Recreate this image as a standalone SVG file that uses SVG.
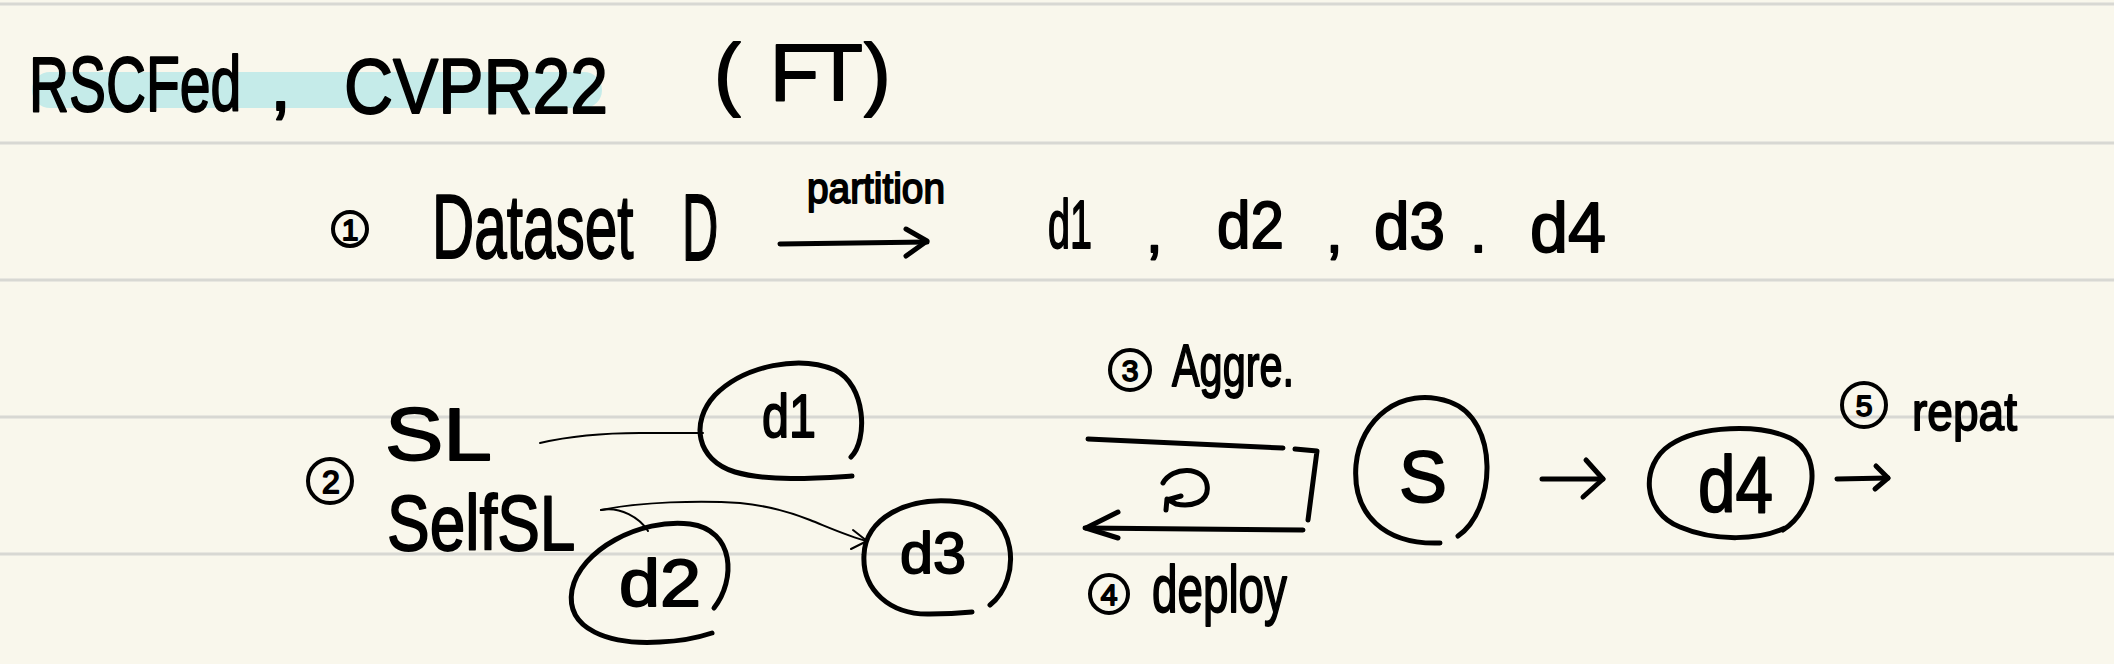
<svg xmlns="http://www.w3.org/2000/svg" width="2114" height="664" viewBox="0 0 2114 664">
  <defs>
    <style>
      .bg { fill: #f9f7ec; }
      .rule { stroke: #d8d8d3; stroke-width: 3; }
      .hw { font-family: "Liberation Sans", "DejaVu Sans", sans-serif; fill: #000; stroke: #000; stroke-width: 1.8; stroke-linejoin: round; }
      .ink { fill: none; stroke: #000; stroke-width: 5; stroke-linecap: round; stroke-linejoin: round; }
      .thin { fill: none; stroke: #000; stroke-width: 2; stroke-linecap: round; stroke-linejoin: round; }
      .circ { fill: none; stroke: #000; stroke-width: 4; stroke-linecap: round; }
    </style>
  </defs>

  <rect class="bg" x="0" y="0" width="2114" height="664"/>
  <g id="rules">
    <line class="rule" x1="0" y1="4" x2="2114" y2="4"/>
    <line class="rule" x1="0" y1="143" x2="2114" y2="143"/>
    <line class="rule" x1="0" y1="280" x2="2114" y2="280"/>
    <line class="rule" x1="0" y1="417" x2="2114" y2="417"/>
    <line class="rule" x1="0" y1="554" x2="2114" y2="554"/>
  </g>

  <g id="title">
    <rect x="32" y="72" width="570" height="36" rx="18" fill="#c5ebe9"/>
    <text class="hw" transform="matrix(0.71 0 0 1 29 111)" x="0" y="0" font-size="78">RSCFed</text>
    <text class="hw" x="270" y="110" font-size="76">,</text>
    <text class="hw" transform="matrix(0.87 0 0 1 344 113)" x="0" y="0" font-size="78">CVPR22</text>
    <text class="hw" x="714 770 814 864" y="100" font-size="80">(FT)</text>
  </g>

  <g id="step1">
    <circle class="circ" cx="350" cy="229" r="17"/>
    <text class="hw" x="350" y="240" font-size="30" text-anchor="middle">1</text>
    <text class="hw" transform="matrix(0.65 0 0 1 432 258)" x="0" y="0" font-size="90">Dataset</text>
    <text class="hw" transform="matrix(0.53 0 0 1 682 260)" x="0" y="0" font-size="95">D</text>
    <text class="hw" x="807" y="203" font-size="42" textLength="138" lengthAdjust="spacingAndGlyphs">partition</text>
    <text class="hw" x="1048" y="248" font-size="68" textLength="44" lengthAdjust="spacingAndGlyphs">d1</text>
    <text class="hw" x="1146" y="252" font-size="60">,</text>
    <text class="hw" x="1217" y="248" font-size="66" textLength="67" lengthAdjust="spacingAndGlyphs">d2</text>
    <text class="hw" x="1326" y="252" font-size="60">,</text>
    <text class="hw" x="1374" y="249" font-size="66" textLength="71" lengthAdjust="spacingAndGlyphs">d3</text>
    <text class="hw" x="1470" y="252" font-size="60">.</text>
    <text class="hw" x="1530" y="252" font-size="70" textLength="76" lengthAdjust="spacingAndGlyphs">d4</text>
  </g>

  <g id="labels">
    <circle class="circ" cx="330" cy="481" r="22"/>
    <text class="hw" x="331" y="493" font-size="32" text-anchor="middle">2</text>
    <text class="hw" x="385" y="460" font-size="75" textLength="107" lengthAdjust="spacingAndGlyphs">SL</text>
    <text class="hw" transform="matrix(0.82 0 0 1 387 550)" x="0" y="0" font-size="78">SelfSL</text>

    <circle class="circ" cx="1130" cy="370" r="20"/>
    <text class="hw" x="1130" y="381" font-size="30" text-anchor="middle">3</text>
    <text class="hw" x="1172" y="386" font-size="60" textLength="122" lengthAdjust="spacingAndGlyphs">Aggre.</text>

    <circle class="circ" cx="1109" cy="594" r="19"/>
    <text class="hw" x="1109" y="605" font-size="30" text-anchor="middle">4</text>
    <text class="hw" x="1152" y="612" font-size="66" textLength="135" lengthAdjust="spacingAndGlyphs">deploy</text>

    <circle class="circ" cx="1864" cy="405" r="22"/>
    <text class="hw" x="1864" y="416" font-size="30" text-anchor="middle">5</text>
    <text class="hw" x="1912" y="430" font-size="54" textLength="105" lengthAdjust="spacingAndGlyphs">repat</text>
  </g>

  <g id="node-d1">
    <path class="ink" d="M851,457 C868,440 866,385 835,370 C800,355 745,365 715,395 C690,422 696,460 735,472 C770,482 820,478 852,476"/>
    <text class="hw" x="762" y="437" font-size="62" textLength="54" lengthAdjust="spacingAndGlyphs">d1</text>
  </g>
  <g id="node-d2">
    <path class="ink" d="M714,608 C736,580 735,530 690,524 C640,518 580,550 572,590 C565,630 610,645 660,642 C685,641 700,637 712,633"/>
    <text class="hw" x="619" y="606" font-size="66" textLength="82" lengthAdjust="spacingAndGlyphs">d2</text>
  </g>
  <g id="node-d3">
    <path class="ink" d="M990,605 C1022,580 1020,510 960,502 C905,495 865,520 864,555 C862,590 890,615 930,614 C950,614 962,613 972,612"/>
    <text class="hw" x="900" y="573" font-size="58" textLength="66" lengthAdjust="spacingAndGlyphs">d3</text>
  </g>
  <g id="node-S">
    <path class="ink" d="M1458,536 C1496,510 1500,420 1450,402 C1400,385 1360,420 1356,465 C1352,515 1385,545 1440,543"/>
    <text class="hw" x="1399" y="502" font-size="72" textLength="48" lengthAdjust="spacingAndGlyphs">S</text>
  </g>
  <g id="node-d4">
    <path class="ink" d="M1783,530 C1815,510 1825,455 1790,438 C1760,424 1700,425 1670,445 C1640,465 1642,512 1680,527 C1715,542 1760,540 1785,528"/>
    <text class="hw" x="1698" y="512" font-size="80" textLength="75" lengthAdjust="spacingAndGlyphs">d4</text>
  </g>

  <g id="connectors">
    <path class="ink" d="M780,244 L927,242"/>
    <path class="ink" d="M906,229 L927,241 L906,256"/>
    <path class="thin" d="M540,443 C570,436 600,433 640,433 L703,433"/>
    <path class="thin" d="M601,510 C620,506 640,518 648,531"/>
    <path class="thin" d="M601,510 C640,502 700,500 740,503 C770,506 790,512 810,520 C830,528 850,537 867,541"/>
    <path class="thin" d="M853,530 L867,541 L851,549"/>
    <path class="ink" d="M1088,439 L1283,448"/>
    <path class="ink" d="M1295,449 L1317,451 L1308,520"/>
    <path class="ink" d="M1163,483 C1172,466 1204,466 1207,485 C1210,503 1190,507 1176,504 L1167,499 L1166,510 M1167,500 L1181,496"/>
    <path class="ink" d="M1303,530 L1085,528"/>
    <path class="ink" d="M1118,512 L1086,528 L1118,538"/>
    <path class="ink" d="M1542,479 L1603,479"/>
    <path class="ink" d="M1586,460 L1603,479 L1583,497"/>
    <path class="ink" d="M1837,479 L1888,478"/>
    <path class="ink" d="M1876,466 L1888,478 L1875,489"/>
  </g>
</svg>
